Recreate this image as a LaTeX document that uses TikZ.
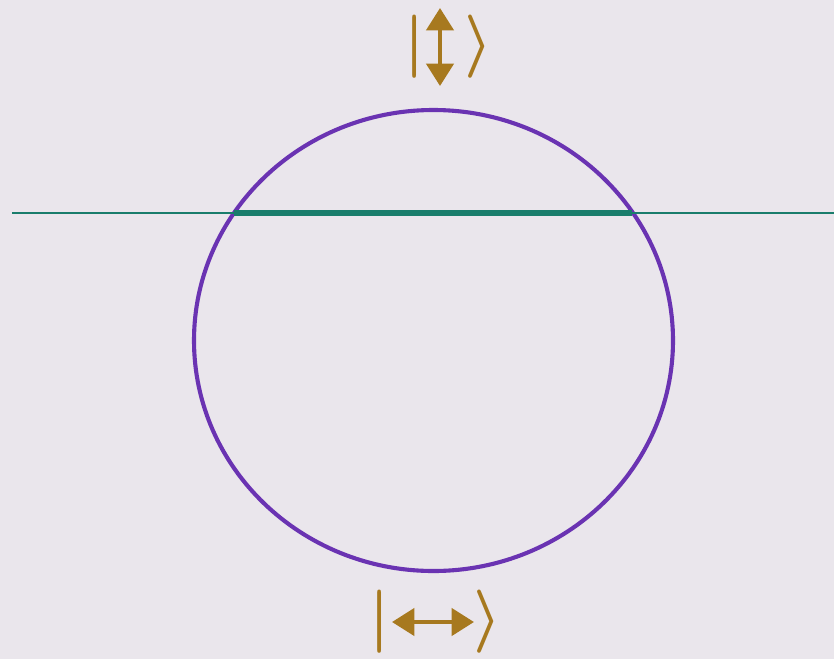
\RequirePackage{fix-cm}
\documentclass[tikz,border=0pt]{standalone}
\usepackage{amsmath, amssymb}
\usepackage{tikz}
\usetikzlibrary{arrows.meta}

\definecolor{bgcol}{HTML}{EAE6EC}
\definecolor{ringcol}{HTML}{6A33B2}
\definecolor{beamcol}{HTML}{1A7D6C}
\definecolor{ketcol}{HTML}{A7791F}

\tikzset{
    ket/.style={text=ketcol, inner sep=0pt, font=\fontsize{54}{58}\selectfont\boldmath},
    pol/.style={ketcol, line width=3.5pt, {Triangle[width=23pt, length=19pt]}-{Triangle[width=23pt, length=19pt]}}
}

\begin{document}
\begin{tikzpicture}[x=0.03cm, y=-0.03cm]
    % 1. Nền
    \fill[bgcol] (0,0) rectangle (834,659);
    \useasboundingbox (0,0) rectangle (834,659);

    % 2. Đường tròn
    \draw[ringcol, line width=3.5pt] (433.5,340.5) ellipse [x radius=239.5, y radius=230.5];

    % 3. Đường thẳng và dây cung
    \coordinate (L) at (12,213);
    \coordinate (R) at (834,213);
    \coordinate (A) at (234,213);
    \coordinate (B) at (632,213);
    \draw[beamcol, line width=2.4pt] (L) -- (R);
    \draw[beamcol, line width=5.5pt] (A) -- (B);

    % 4. Trạng thái dọc
    \node[ket] (vbar) at (415,47) {$|$};
    \node[ket] (vket) at (479,47) {$\rangle$};
    \coordinate (vup) at (440,8);
    \coordinate (vdn) at (440,86);
    \draw[pol] (vup) -- (vdn);

    % 5. Trạng thái ngang
    \node[ket] (hbar) at (380,622) {$|$};
    \node[ket] (hket) at (488,622) {$\rangle$};
    \coordinate (hl) at (392,622);
    \coordinate (hr) at (474,622);
    \draw[pol] (hl) -- (hr);
\end{tikzpicture}
\end{document}
